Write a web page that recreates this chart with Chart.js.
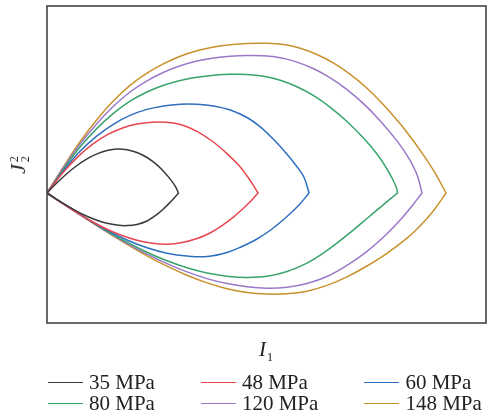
<!DOCTYPE html>
<html><head><meta charset="utf-8">
<script src="https://cdn.jsdelivr.net/npm/chart.js@4/dist/chart.umd.min.js"></script>
<style>
html,body{margin:0;padding:0;background:#fff;}
#wrap{position:relative;width:489px;height:414px;overflow:hidden;}
#c{position:absolute;left:0;top:0;}
.lab{position:absolute;font-family:'Liberation Serif','Times New Roman',serif;color:#222;white-space:nowrap;line-height:1;}
#xlab{left:266px;top:349px;transform:translate(-50%,-50%);font-size:21px;}
#ylab{left:19px;top:165px;transform:translate(-50%,-50%) rotate(-90deg);font-size:22px;}
.it{font-style:italic;}
.sub{font-size:12px;position:relative;top:5px;margin-left:1px;}
.ss{display:inline-flex;flex-direction:column;font-size:12px;line-height:11px;vertical-align:middle;margin-left:2px;}
#legend{position:absolute;left:48px;top:372px;display:grid;grid-template-columns:auto auto auto;column-gap:46px;font-family:'Liberation Serif','Times New Roman',serif;font-size:21px;line-height:21px;color:#222;}
.item{display:flex;align-items:center;}
.sw{width:35px;height:0;border-top:1.5px solid;margin-right:6px;}
</style></head>
<body>
<div id="wrap">
<canvas id="c" width="489" height="414"></canvas>
<div id="xlab" class="lab"><span class="it">I</span><span class="sub">1</span></div>
<div id="ylab" class="lab"><span class="it">J</span><span class="ss"><span>2</span><span>2</span></span></div>
<div id="legend"></div>
</div>
<script>
const labels = ['35 MPa','48 MPa','60 MPa','80 MPa','120 MPa','148 MPa'];
const colors = ['#3a3a3a','#e8474f','#2f6fbf','#38a46c','#9a78c8','#c9912c'];

// I1 (horizontal) / J2 (vertical) readings, arbitrary units.
// upper branch: apex -> tip ; lower branch: tip -> apex
const i1Up_35 = [0,10,20,30,40,50,60,70,80,90,100,110,118,124,128.5,131.5];
const j2Up_35 = [0,10.2,19.5,27.5,34.1,39.1,42.4,44,43.3,40.5,35.5,28.1,20.1,12.9,6.4,0];
const i1Lo_35 = [131.5,128.5,124,118,110,100,90,80,70,60,50,40,30,20,10,0];
const j2Lo_35 = [0,-3.6,-8.4,-14.4,-21.4,-28,-31.4,-32.6,-32.1,-30.3,-27.3,-23.2,-18.3,-12.7,-6.6,0];

const i1Up_48 = [0,15,30,45,60,75,90,105,120,135,150,165,180,192,201,207,211];
const j2Up_48 = [0,19.2,35.4,48.3,58.1,64.8,68.9,70.8,70.8,68,61.7,52,39.4,27.4,15.7,6.7,0];
const i1Lo_48 = [211,206,198,187,175,163,150,135,120,105,90,75,60,45,30,15,0];
const j2Lo_48 = [0,-5.75,-13.75,-23.6,-32.6,-40,-45.5,-49.6,-51.3,-50.3,-47.3,-42.5,-36.2,-28.5,-19.6,-10,0];

const i1Up_60 = [0,16.7,33,50,66.7,83,100,116.7,133.3,150,166.7,183.3,200,213,226.7,240,250,257,262];
const j2Up_60 = [0,22.5,41.7,57.1,68.9,77.6,83.6,87.1,88.8,88.8,87.1,83,75.5,66.4,53.4,38.8,26.3,15.8,0];
const i1Lo_60 = [262,252,240,225,210,195,180,160,140,120,100,80,60,40,20,0];
const j2Lo_60 = [0,-12,-23.5,-36,-46,-53.5,-59.5,-63.5,-63,-60.2,-54.8,-47,-37.2,-25.8,-13.2,0];

const i1Up_80 = [0,16.7,33,50,66.7,83,100,116.7,133.3,150,166.7,183.3,200,216.7,233.3,250,266.7,283.3,300,316.7,330,340,346,349.5,350.5];
const j2Up_80 = [0,24,45.9,64.6,79.8,91.8,101,107.7,112.5,115.7,117.7,118.7,118.6,116.8,112.8,106.3,97.3,85.7,71.5,54.7,39,24,13,5,0];
const i1Lo_80 = [350.5,335,320,306,290,273,260,240,220,200,180,160,140,120,100,80,60,40,20,0];
const j2Lo_80 = [0,-12.8,-25.5,-37.3,-50.1,-62.3,-70.1,-78.5,-83.3,-84.4,-83.2,-80,-74.8,-67.8,-59.2,-49.2,-38,-25.8,-13,0];

const i1Up_120 = [0,16.7,33,50,66.7,83,100,116.7,133.3,150,166.7,183.3,200,216.7,233.3,250,266.7,283.3,300,316.7,333.3,350,360,366,371,375];
const j2Up_120 = [0,25.5,48.9,69.6,87,101,112.2,120.7,127.2,131.9,134.9,136.7,137.5,137.2,135.2,130.9,124.2,115.1,103.4,89.1,72.1,52.1,37.6,27.1,15.6,0];
const i1Lo_120 = [375,365,355,340,320,300,280,260,240,220,200,180,160,140,120,100,80,60,40,20,0];
const j2Lo_120 = [0,-13,-25,-40.8,-58.4,-72.4,-83.5,-90.5,-94.3,-95.2,-93.8,-90.6,-85.6,-78.9,-70.6,-61.1,-50.4,-38.7,-26.2,-13.3,0];

const i1Up_148 = [0,16.7,33,50,66.7,83,100,116.7,133.3,150,166.7,183.3,200,220,236.7,253.3,270,286.7,303.3,320,336.7,353.3,365,376.7,388,399];
const j2Up_148 = [0,26.6,51.3,73.5,92.4,107.7,119.9,129.4,136.8,142.2,146,148.3,149.5,149.7,148.4,144.7,138.5,129.8,118.6,104.8,88.1,69,54,37.6,20.1,0];
const i1Lo_148 = [399,386,373,360,340,320,300,280,260,240,220,200,180,160,140,120,100,80,60,40,20,0];
const j2Lo_148 = [0,-18.2,-33.1,-45.2,-60.4,-73,-83.8,-92.4,-98.2,-100.8,-101.1,-99.5,-95.7,-89.9,-82.3,-73.2,-62.8,-51.4,-39.2,-26.4,-13.2,0];

const series = [
  [i1Up_35,j2Up_35,i1Lo_35,j2Lo_35],
  [i1Up_48,j2Up_48,i1Lo_48,j2Lo_48],
  [i1Up_60,j2Up_60,i1Lo_60,j2Lo_60],
  [i1Up_80,j2Up_80,i1Lo_80,j2Lo_80],
  [i1Up_120,j2Up_120,i1Lo_120,j2Lo_120],
  [i1Up_148,j2Up_148,i1Lo_148,j2Lo_148]
];

const datasets = labels.map((lab,s)=>{
  const [xu,yu,xl,yl] = series[s];
  const pts = xu.map((x,k)=>({x:x,y:yu[k]})).concat(xl.map((x,k)=>({x:x,y:yl[k]})));
  return {
    label: lab,
    data: pts,
    borderColor: colors[s],
    backgroundColor: colors[s],
    borderWidth: 1.5,
    pointRadius: 0,
    showLine: true,
    fill: false,
    tension: 0.38
  };
});

const frame = {
  id:'frame',
  afterDraw(chart){
    const a = chart.chartArea, ctx = chart.ctx;
    ctx.save();
    ctx.strokeStyle = '#444';
    ctx.lineWidth = 1.6;
    ctx.strokeRect(a.left, a.top, a.right-a.left, a.bottom-a.top);
    ctx.restore();
  }
};

new Chart(document.getElementById('c'), {
  type: 'scatter',
  data: { datasets },
  options: {
    responsive: false,
    animation: false,
    layout: { padding: { left: 47, top: 6, right: 3, bottom: 91 } },
    plugins: { legend: { display: false }, tooltip: { enabled: false } },
    scales: {
      x: { type: 'linear', min: 0, max: 439, display: false },
      y: { type: 'linear', min: -130, max: 187, display: false }
    }
  },
  plugins: [frame]
});

const lg = document.getElementById('legend');
labels.forEach((lab,s)=>{
  const it = document.createElement('div');
  it.className = 'item';
  const sw = document.createElement('span');
  sw.className = 'sw';
  sw.style.borderTopColor = colors[s];
  const tx = document.createElement('span');
  tx.textContent = lab;
  it.appendChild(sw); it.appendChild(tx);
  lg.appendChild(it);
});
</script>
</body></html>
